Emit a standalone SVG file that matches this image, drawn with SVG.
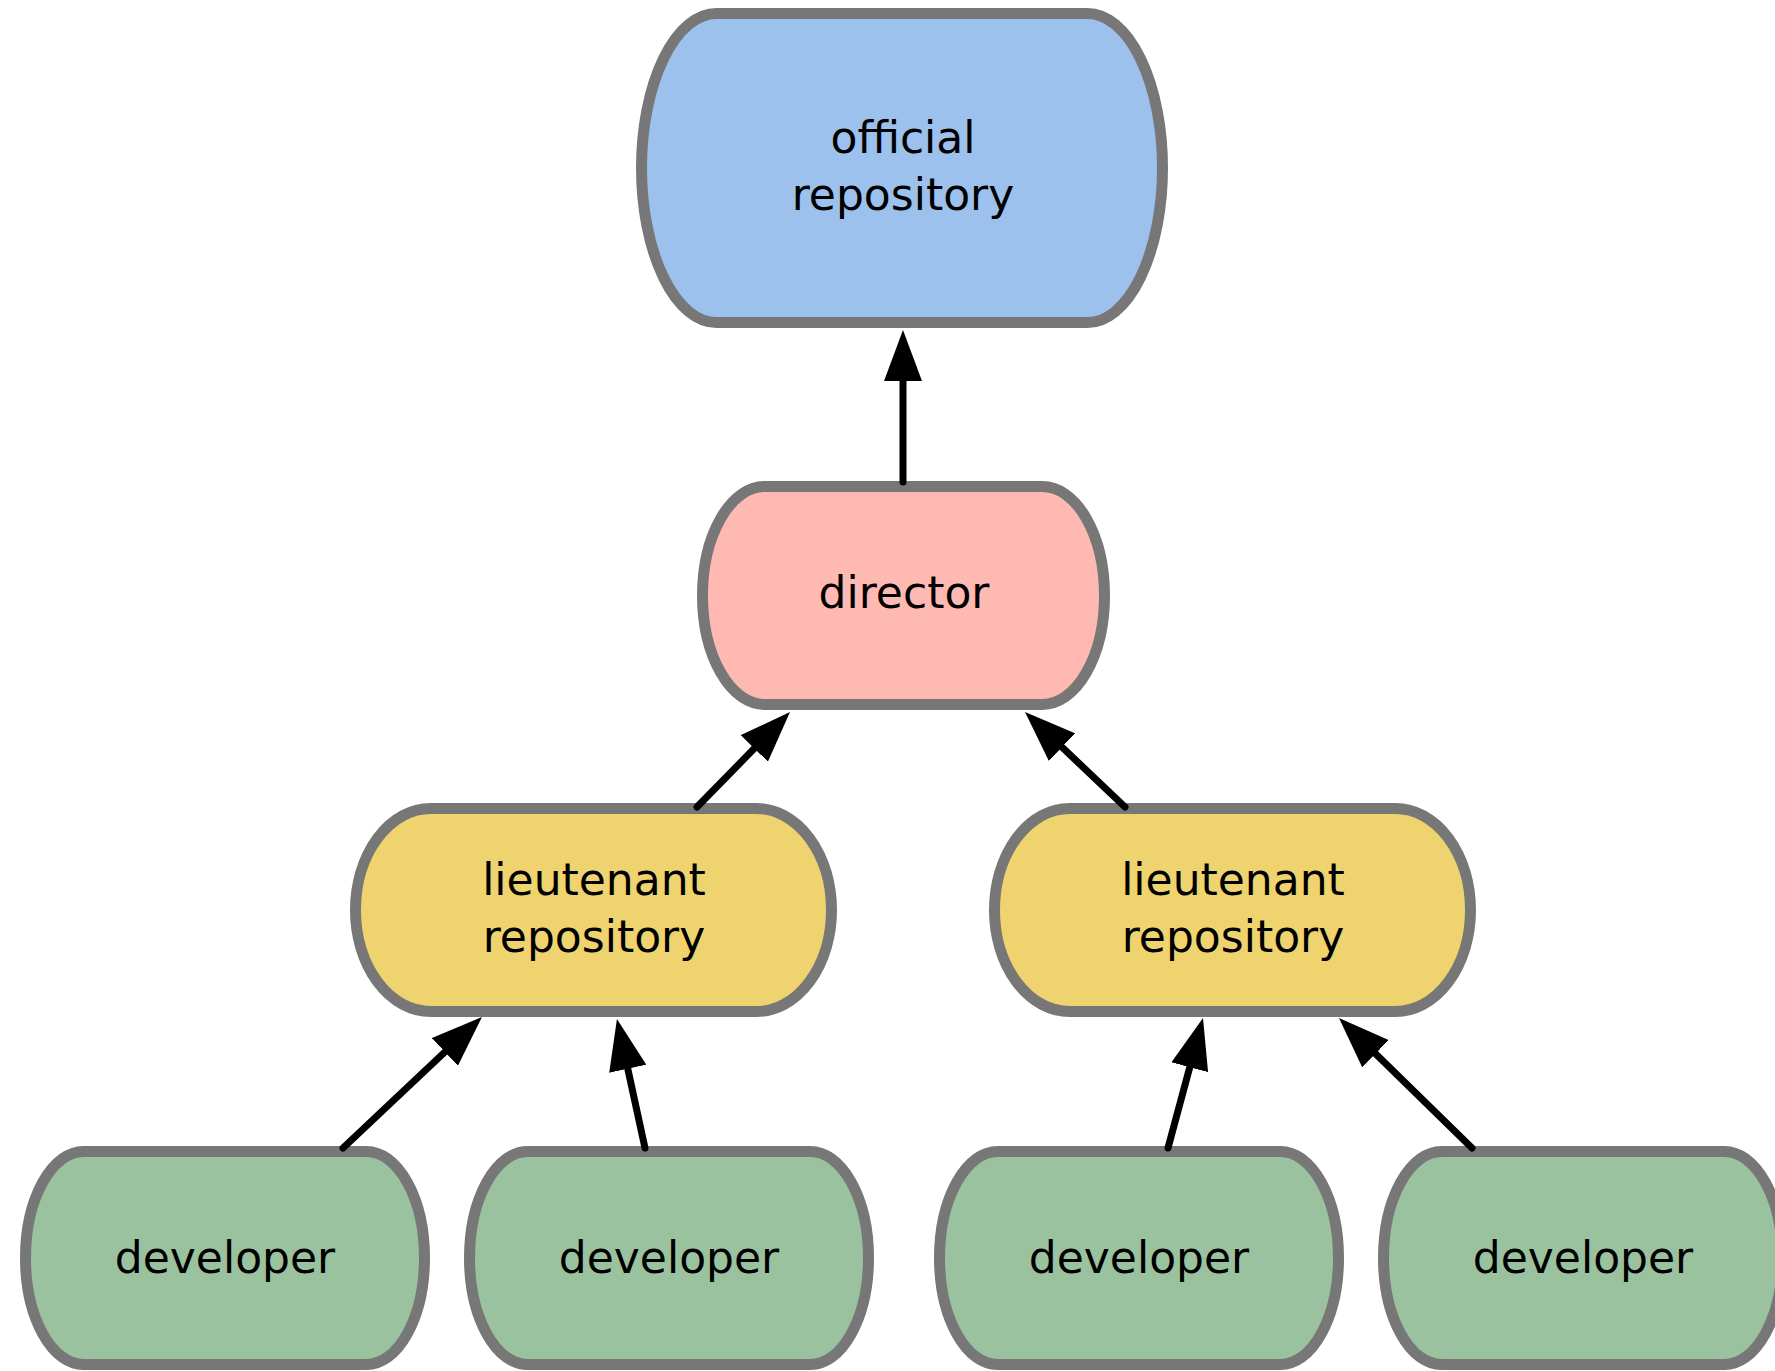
<svg xmlns="http://www.w3.org/2000/svg" width="1775" height="1371" viewBox="0 0 1775 1371">
<style>
.node{stroke:#777777;stroke-width:11}
.official{fill:#9CC1EC}
.director{fill:#FEBAB2}
.lieut{fill:#EED36F}
.dev{fill:#9AC29F}
text{font-family:"DejaVu Sans","Liberation Sans",sans-serif;font-size:44px;fill:#000;text-anchor:middle}
.edge{stroke:#000;stroke-width:7;stroke-linecap:round;fill:none;marker-end:url(#arrow)}
</style>
<defs>
<marker id="arrow" viewBox="0 0 51 38" markerWidth="51" markerHeight="38" refX="31" refY="19" orient="auto" markerUnits="userSpaceOnUse">
<path d="M0,0 L51,19 L0,38 z" fill="#000"/>
</marker>
</defs>
<rect width="1775" height="1371" fill="#fff"/>
<g id="official">
<rect class="node official" x="641.5" y="13.5" width="521" height="309" rx="75" ry="154.5"/>
<text x="903" y="153">official</text>
<text x="903" y="210">repository</text>
</g>
<g id="director">
<rect class="node director" x="702.5" y="486.5" width="402" height="218" rx="62" ry="109"/>
<text x="904" y="608">director</text>
</g>
<g id="lieutenant1">
<rect class="node lieut" x="355.5" y="808.5" width="476" height="203" rx="75" ry="101.5"/>
<text x="594" y="895">lieutenant</text>
<text x="594" y="952">repository</text>
</g>
<g id="lieutenant2">
<rect class="node lieut" x="994.5" y="808.5" width="476" height="203" rx="75" ry="101.5"/>
<text x="1233" y="895">lieutenant</text>
<text x="1233" y="952">repository</text>
</g>
<g id="developer1">
<rect class="node dev" x="25.5" y="1151.5" width="399" height="213" rx="58" ry="106.5"/>
<text x="225" y="1273">developer</text>
</g>
<g id="developer2">
<rect class="node dev" x="469.5" y="1151.5" width="399" height="213" rx="58" ry="106.5"/>
<text x="669" y="1273">developer</text>
</g>
<g id="developer3">
<rect class="node dev" x="939.5" y="1151.5" width="399" height="213" rx="58" ry="106.5"/>
<text x="1139" y="1273">developer</text>
</g>
<g id="developer4">
<rect class="node dev" x="1383.5" y="1151.5" width="399" height="213" rx="58" ry="106.5"/>
<text x="1583" y="1273">developer</text>
</g>
<g id="connectors">
<line class="edge" x1="903" y1="482" x2="903" y2="350"/>
<line class="edge" x1="697" y1="807" x2="776" y2="726.3"/>
<line class="edge" x1="1125" y1="807" x2="1039.5" y2="725.8"/>
<line class="edge" x1="343" y1="1148" x2="467.4" y2="1030.7"/>
<line class="edge" x1="645" y1="1148" x2="621.2" y2="1038.5"/>
<line class="edge" x1="1168" y1="1148" x2="1197.8" y2="1037.3"/>
<line class="edge" x1="1472" y1="1148" x2="1353.3" y2="1032"/>
</g>
</svg>
